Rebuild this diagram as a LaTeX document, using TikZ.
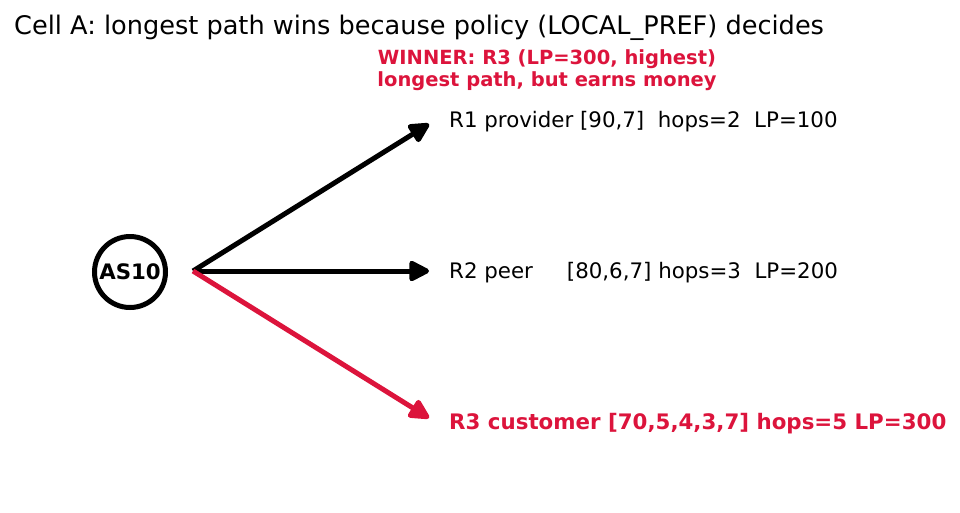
\documentclass[tikz,border=0pt]{standalone}
\usepackage{fontspec}
\setmainfont{DejaVu Sans}
\usetikzlibrary{arrows.meta}
\definecolor{win}{HTML}{DC143C}
\begin{document}
\begin{tikzpicture}[x=1pt,y=-1pt,
  conn/.style={line width=5pt,-{Triangle[length=23pt,width=22pt,round]}},
  lbl/.style={anchor=west,inner sep=0pt,font=\fontsize{21.35}{24}\selectfont},
  winlbl/.style={lbl,text=win,font=\fontsize{21.35}{24}\selectfont\bfseries}]
\useasboundingbox (0,0) rectangle (960,512);
\node[anchor=west,inner sep=0pt,font=\fontsize{25.6}{28}\selectfont] (title) at (14,28) {Cell A: longest path wins because policy (LOCAL\_PREF) decides};
\node[align=center,inner sep=0pt,text=win,font=\fontsize{19.5}{22.5}\selectfont\bfseries] (winner) at (547,70) {WINNER: R3 (LP=300, highest)\\longest path, but earns money};
\node[circle,draw,line width=5pt,minimum size=71pt,inner sep=0pt,font=\fontsize{21.3}{24}\selectfont\bfseries] (as) at (130,272) {AS10};
\coordinate (src) at (193,271);
\coordinate (e1) at (429,124);
\coordinate (e2) at (429,271);
\coordinate (e3) at (429,418);
\node[lbl] (r1) at (449,122) {R1 provider [90,7]\ \ hops=2\ \ LP=100};
\node[lbl] (r2) at (449,273) {R2 peer\ \ \ \ \ [80,6,7] hops=3\ \ LP=200};
\node[winlbl] (r3) at (449,424) {R3 customer [70,5,4,3,7] hops=5 LP=300};
\draw[conn] (src) -- (e1);
\draw[conn] (src) -- (e2);
\draw[conn,win] (src) -- (e3);
\end{tikzpicture}
\end{document}
